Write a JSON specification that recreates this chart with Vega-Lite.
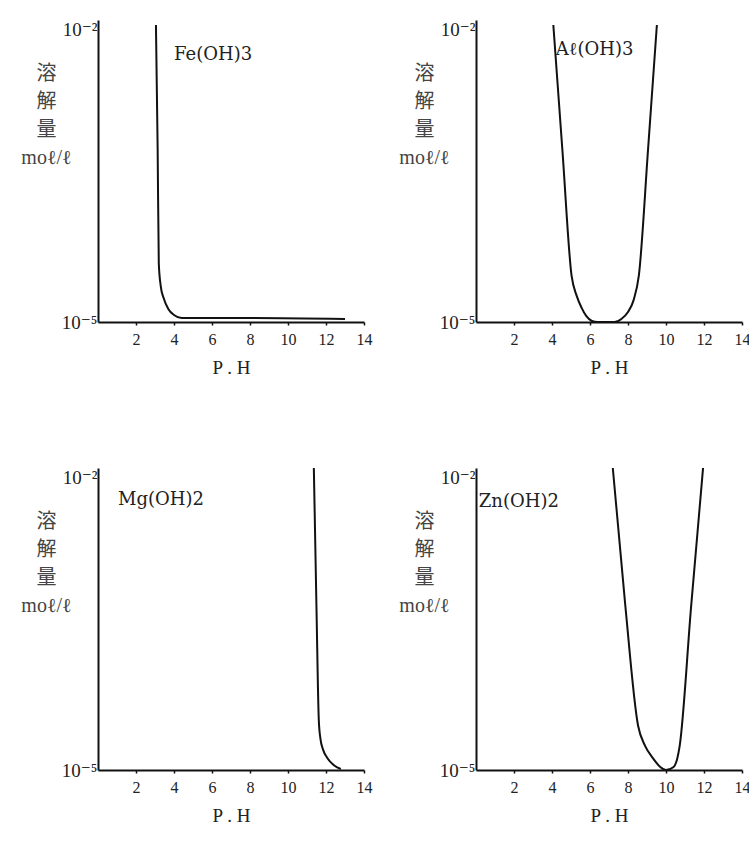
{
  "$schema": "https://vega.github.io/schema/vega-lite/v6.json",
  "background": "white",
  "padding": {"left": 20, "top": 20, "right": 0, "bottom": 0},
  "bounds": "flush",
  "data": {
    "values": [
      {"compound": "Fe(OH)3", "kind": "curve", "pH": 3.05, "logS": -2.05},
      {"compound": "Fe(OH)3", "kind": "curve", "pH": 3.14, "logS": -3.29},
      {"compound": "Fe(OH)3", "kind": "curve", "pH": 3.2, "logS": -4.42},
      {"compound": "Fe(OH)3", "kind": "curve", "pH": 3.3, "logS": -4.64},
      {"compound": "Fe(OH)3", "kind": "curve", "pH": 3.45, "logS": -4.76},
      {"compound": "Fe(OH)3", "kind": "curve", "pH": 3.7, "logS": -4.87},
      {"compound": "Fe(OH)3", "kind": "curve", "pH": 4.0, "logS": -4.93},
      {"compound": "Fe(OH)3", "kind": "curve", "pH": 4.4, "logS": -4.96},
      {"compound": "Fe(OH)3", "kind": "curve", "pH": 8.0, "logS": -4.96},
      {"compound": "Fe(OH)3", "kind": "curve", "pH": 13.0, "logS": -4.97},
      {"compound": "Fe(OH)3", "kind": "label", "pH": 4.0, "logS": -2.35},

      {"compound": "Aℓ(OH)3", "kind": "curve", "pH": 4.07, "logS": -2.05},
      {"compound": "Aℓ(OH)3", "kind": "curve", "pH": 4.55, "logS": -3.3},
      {"compound": "Aℓ(OH)3", "kind": "curve", "pH": 5.03, "logS": -4.54},
      {"compound": "Aℓ(OH)3", "kind": "curve", "pH": 5.3, "logS": -4.74},
      {"compound": "Aℓ(OH)3", "kind": "curve", "pH": 5.56, "logS": -4.86},
      {"compound": "Aℓ(OH)3", "kind": "curve", "pH": 5.8, "logS": -4.94},
      {"compound": "Aℓ(OH)3", "kind": "curve", "pH": 6.1, "logS": -4.99},
      {"compound": "Aℓ(OH)3", "kind": "curve", "pH": 6.4, "logS": -5.0},
      {"compound": "Aℓ(OH)3", "kind": "curve", "pH": 7.3, "logS": -5.0},
      {"compound": "Aℓ(OH)3", "kind": "curve", "pH": 7.65, "logS": -4.97},
      {"compound": "Aℓ(OH)3", "kind": "curve", "pH": 8.0, "logS": -4.9},
      {"compound": "Aℓ(OH)3", "kind": "curve", "pH": 8.3, "logS": -4.78},
      {"compound": "Aℓ(OH)3", "kind": "curve", "pH": 8.57, "logS": -4.54},
      {"compound": "Aℓ(OH)3", "kind": "curve", "pH": 9.05, "logS": -3.3},
      {"compound": "Aℓ(OH)3", "kind": "curve", "pH": 9.52, "logS": -2.05},
      {"compound": "Aℓ(OH)3", "kind": "label", "pH": 4.2, "logS": -2.3},

      {"compound": "Mg(OH)2", "kind": "curve", "pH": 11.36, "logS": -2.0},
      {"compound": "Mg(OH)2", "kind": "curve", "pH": 11.5, "logS": -3.4},
      {"compound": "Mg(OH)2", "kind": "curve", "pH": 11.62, "logS": -4.5},
      {"compound": "Mg(OH)2", "kind": "curve", "pH": 11.7, "logS": -4.68},
      {"compound": "Mg(OH)2", "kind": "curve", "pH": 11.85, "logS": -4.8},
      {"compound": "Mg(OH)2", "kind": "curve", "pH": 12.07, "logS": -4.88},
      {"compound": "Mg(OH)2", "kind": "curve", "pH": 12.4, "logS": -4.95},
      {"compound": "Mg(OH)2", "kind": "curve", "pH": 12.78, "logS": -4.99},
      {"compound": "Mg(OH)2", "kind": "label", "pH": 1.05, "logS": -2.32},

      {"compound": "Zn(OH)2", "kind": "curve", "pH": 7.2, "logS": -2.0},
      {"compound": "Zn(OH)2", "kind": "curve", "pH": 7.85, "logS": -3.35},
      {"compound": "Zn(OH)2", "kind": "curve", "pH": 8.53, "logS": -4.56},
      {"compound": "Zn(OH)2", "kind": "curve", "pH": 8.9, "logS": -4.76},
      {"compound": "Zn(OH)2", "kind": "curve", "pH": 9.3, "logS": -4.88},
      {"compound": "Zn(OH)2", "kind": "curve", "pH": 9.7, "logS": -4.97},
      {"compound": "Zn(OH)2", "kind": "curve", "pH": 10.0, "logS": -5.0},
      {"compound": "Zn(OH)2", "kind": "curve", "pH": 10.4, "logS": -4.97},
      {"compound": "Zn(OH)2", "kind": "curve", "pH": 10.6, "logS": -4.88},
      {"compound": "Zn(OH)2", "kind": "curve", "pH": 10.72, "logS": -4.76},
      {"compound": "Zn(OH)2", "kind": "curve", "pH": 11.32, "logS": -3.38},
      {"compound": "Zn(OH)2", "kind": "curve", "pH": 11.95, "logS": -2.0},
      {"compound": "Zn(OH)2", "kind": "label", "pH": 0.15, "logS": -2.34}
    ]
  },
  "columns": 2,
  "spacing": {"row": 146, "column": 112},
  "concat": [
    {
      "transform": [{"filter": "datum.compound == 'Fe(OH)3'"}],
      "width": 266, "height": 302,
      "encoding": {
        "x": {"field": "pH", "type": "quantitative", "scale": {"domain": [0, 14], "nice": false, "zero": false}, "axis": {"title": "P . H", "values": [2, 4, 6, 8, 10, 12, 14]}},
        "y": {"field": "logS", "type": "quantitative", "scale": {"domain": [-5, -2], "nice": false, "zero": false}, "axis": {"title": ["溶", "解", "量", "moℓ/ℓ"], "values": [-5, -2]}}
      },
      "layer": [
        {"transform": [{"filter": "datum.kind == 'curve'"}], "mark": {"type": "line", "interpolate": "monotone", "color": "#111", "strokeWidth": 2}},
        {"transform": [{"filter": "datum.kind == 'label'"}], "mark": {"type": "text", "align": "left", "baseline": "middle", "font": "DejaVu Serif", "fontSize": 18, "color": "#222"}, "encoding": {"text": {"field": "compound"}}}
      ]
    },
    {
      "transform": [{"filter": "datum.compound == 'Aℓ(OH)3'"}],
      "width": 266, "height": 302,
      "encoding": {
        "x": {"field": "pH", "type": "quantitative", "scale": {"domain": [0, 14], "nice": false, "zero": false}, "axis": {"title": "P . H", "values": [2, 4, 6, 8, 10, 12, 14]}},
        "y": {"field": "logS", "type": "quantitative", "scale": {"domain": [-5, -2], "nice": false, "zero": false}, "axis": {"title": ["溶", "解", "量", "moℓ/ℓ"], "values": [-5, -2]}}
      },
      "layer": [
        {"transform": [{"filter": "datum.kind == 'curve'"}], "mark": {"type": "line", "interpolate": "monotone", "color": "#111", "strokeWidth": 2}},
        {"transform": [{"filter": "datum.kind == 'label'"}], "mark": {"type": "text", "align": "left", "baseline": "middle", "font": "DejaVu Serif", "fontSize": 18, "color": "#222"}, "encoding": {"text": {"field": "compound"}}}
      ]
    },
    {
      "transform": [{"filter": "datum.compound == 'Mg(OH)2'"}],
      "width": 266, "height": 302,
      "encoding": {
        "x": {"field": "pH", "type": "quantitative", "scale": {"domain": [0, 14], "nice": false, "zero": false}, "axis": {"title": "P . H", "values": [2, 4, 6, 8, 10, 12, 14]}},
        "y": {"field": "logS", "type": "quantitative", "scale": {"domain": [-5, -2], "nice": false, "zero": false}, "axis": {"title": ["溶", "解", "量", "moℓ/ℓ"], "values": [-5, -2]}}
      },
      "layer": [
        {"transform": [{"filter": "datum.kind == 'curve'"}], "mark": {"type": "line", "interpolate": "monotone", "color": "#111", "strokeWidth": 2}},
        {"transform": [{"filter": "datum.kind == 'label'"}], "mark": {"type": "text", "align": "left", "baseline": "middle", "font": "DejaVu Serif", "fontSize": 18, "color": "#222"}, "encoding": {"text": {"field": "compound"}}}
      ]
    },
    {
      "transform": [{"filter": "datum.compound == 'Zn(OH)2'"}],
      "width": 266, "height": 302,
      "encoding": {
        "x": {"field": "pH", "type": "quantitative", "scale": {"domain": [0, 14], "nice": false, "zero": false}, "axis": {"title": "P . H", "values": [2, 4, 6, 8, 10, 12, 14]}},
        "y": {"field": "logS", "type": "quantitative", "scale": {"domain": [-5, -2], "nice": false, "zero": false}, "axis": {"title": ["溶", "解", "量", "moℓ/ℓ"], "values": [-5, -2]}}
      },
      "layer": [
        {"transform": [{"filter": "datum.kind == 'curve'"}], "mark": {"type": "line", "interpolate": "monotone", "color": "#111", "strokeWidth": 2}},
        {"transform": [{"filter": "datum.kind == 'label'"}], "mark": {"type": "text", "align": "left", "baseline": "middle", "font": "DejaVu Serif", "fontSize": 18, "color": "#222"}, "encoding": {"text": {"field": "compound"}}}
      ]
    }
  ],
  "config": {
    "view": {"stroke": null},
    "axisX": {
      "grid": false,
      "domainColor": "#111",
      "domainWidth": 2,
      "tickColor": "#111",
      "tickSize": 3,
      "tickWidth": 1.5,
      "labelFont": "Liberation Serif",
      "labelFontSize": 16,
      "labelColor": "#222",
      "labelPadding": 6,
      "labelFlush": false,
      "titleFont": "Liberation Serif",
      "titleFontSize": 19,
      "titleFontWeight": "normal",
      "titleColor": "#222",
      "titlePadding": 11
    },
    "axisY": {
      "grid": false,
      "ticks": false,
      "domainColor": "#111",
      "domainWidth": 2,
      "labelExpr": "datum.value > -3 ? '10⁻²' : '10⁻⁵'",
      "labelBaseline": {"condition": {"test": "datum.value > -3", "value": "top"}, "value": "middle"},
      "labelFont": "Liberation Serif, DejaVu Serif",
      "labelFontSize": 19,
      "labelColor": "#222",
      "labelPadding": 1,
      "titleAngle": 0,
      "titleAlign": "center",
      "titleBaseline": "top",
      "titleX": -52,
      "titleY": 43,
      "titleLineHeight": 28,
      "titleFont": "Liberation Serif, Noto Sans CJK JP",
      "titleFontSize": 20,
      "titleFontWeight": "normal",
      "titleColor": "#444"
    }
  }
}
